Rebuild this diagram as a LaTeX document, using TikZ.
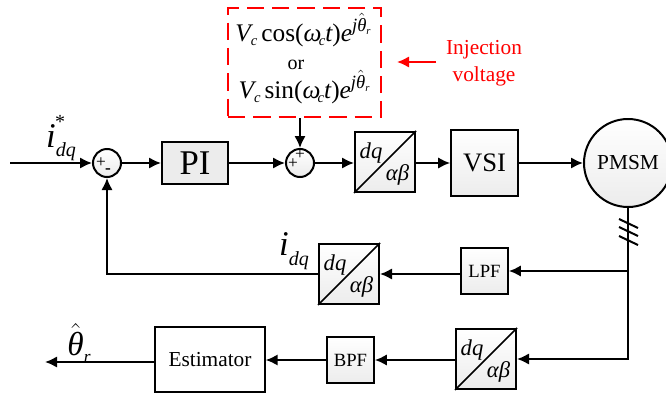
\documentclass[tikz,border=0pt]{standalone}
\usepackage{amsmath}
\usepackage{fontspec}
\setmainfont{Liberation Serif}
\usetikzlibrary{arrows.meta}
\definecolor{boxgray}{RGB}{236,236,236}
\newcommand{\fs}[1]{\fontsize{#1}{#1}\selectfont}
\newcommand{\mi}[1]{\text{\itshape #1}}
\newcommand{\thetahat}{$\hat{\mi{θ}}$}
\newcommand{\idq}{{\fs{26}\itshape i}\raisebox{-7pt}{\fs{15}\itshape dq}}
\newcommand{\eqterm}[1]{{\itshape V}\raisebox{-3.5pt}{\fs{11}\itshape c}\hspace{3pt}#1({\itshape ω}\hspace{-2pt}\raisebox{-3.5pt}{\fs{11}\itshape c}{\itshape t}){\itshape e}\raisebox{7pt}{\fs{14}\itshape j\thetahat\raisebox{-2pt}{\fs{8}r}}}
\begin{document}
\begin{tikzpicture}[x=0.75pt,y=0.75pt,yscale=-1,xscale=1,
  >={Latex[length=9pt,width=8.5pt]},
  line/.style={line width=1.5pt},
  blockbox/.style={draw,line width=1.5pt,inner sep=0pt,top color=white,bottom color=boxgray},
  sumnode/.style={circle,draw,line width=1.5pt,inner sep=0pt,minimum size=21pt,top color=white,bottom color=boxgray},
  signtext/.style={inner sep=0pt,font=\fs{13}},
  dqtext/.style={inner sep=0pt,font=\fs{17}\itshape}]
\useasboundingbox (0,0) rectangle (666,396);

% Blocks
\node (sumA) [sumnode] at (107,163) {};
\node (pi) [blockbox,fill=boxgray,top color=boxgray,minimum width=49.5pt,minimum height=32pt,font=\fs{26}] at (195,163) {PI};
\node (sumB) [sumnode] at (300,163) {};
\node (dqA) [blockbox,minimum width=45pt,minimum height=45pt] at (385,162) {};
\node (vsi) [blockbox,minimum width=50pt,minimum height=49pt,font=\fs{20}] at (484.5,163) {VSI};
\node (pmsm) [blockbox,circle,minimum size=66pt,font=\fs{16}] at (628,163) {PMSM};
\node (lpf) [blockbox,minimum width=35pt,minimum height=35pt,font=\fs{14}] at (484.5,271) {LPF};
\node (dqB) [blockbox,minimum width=45pt,minimum height=45pt] at (349,274) {};
\node (dqC) [blockbox,minimum width=45pt,minimum height=45pt] at (486,359) {};
\node (bpf) [blockbox,minimum width=35pt,minimum height=35pt,font=\fs{14}] at (350.5,360) {BPF};
\node (est) [draw,line width=1.5pt,inner sep=0pt,minimum width=82pt,minimum height=49pt,font=\fs{16}] at (210,359.5) {Estimator};
\node (inj) [draw=red,line width=1.5pt,dash pattern=on 13pt off 6pt,inner sep=0pt,minimum width=115pt,minimum height=82pt] at (304.5,62.5) {};

% Text Node
\node (inA) [inner sep=0pt] at (61,138) {\idq\llap{\raisebox{14pt}{\fs{15}*\hspace{8pt}}}};
\node (inB) [inner sep=0pt] at (294,251) {\idq};
\node (outA) [inner sep=0pt,font=\fs{25}] at (79,343) {\thetahat\raisebox{-5pt}{\fs{13}\itshape r}};
\node (eqA) [inner sep=0pt,font=\fs{19}] at (303,30) {\eqterm{cos}};
\node (eqor) [inner sep=0pt,font=\fs{15}] at (296,65) {or};
\node (eqB) [inner sep=0pt,font=\fs{19}] at (304,87) {\eqterm{sin}};
\node (injA) [inner sep=0pt,text=red,font=\fs{16}] at (484,50) {Injection};
\node (injB) [inner sep=0pt,text=red,font=\fs{16}] at (484,76) {voltage};
\node (dqAa) [dqtext] at (371,153) {dq};
\node (dqAb) [dqtext] at (397.5,175) {αβ};
\node (dqBa) [dqtext] at (335,265) {dq};
\node (dqBb) [dqtext] at (361.5,287) {αβ};
\node (dqCa) [dqtext] at (472,350) {dq};
\node (dqCb) [dqtext] at (498.5,372) {αβ};
\node (sgnAa) [signtext] at (101,163) {+};
\node (sgnAb) [signtext] at (108,171) {\textbf{-}};
\node (sgnBa) [signtext] at (293,164) {+};
\node (sgnBb) [signtext] at (300,155) {+};

% Coordinates
\coordinate (start) at (10,163);
\coordinate (stop) at (45,362);
\coordinate (injend) at (397,62);
\coordinate (injstart) at (436,62);

% Straight Lines
\draw [line,->] (start) -- (sumA);
\draw [line,->] (sumA) -- (pi);
\draw [line,->] (pi) -- (sumB);
\draw [line,->] (sumB) -- (sumB -| dqA.west);
\draw [line,->] (vsi -| dqA.east) -- (vsi);
\draw [line,->] (vsi) -- (pmsm);
\draw [line,->] (inj.south -| sumB) -- (sumB);
\draw [line,->] (pmsm.south) |- (lpf.east);
\draw [line,->] (dqB -| lpf.west) -- (dqB.east);
\draw [line,->] (dqB.west) -| (sumA.south);
\draw [line,->] (pmsm.south) |- (dqC -| dqC.east);
\draw [line,->] (bpf -| dqC.west) -- (bpf);
\draw [line,->] (bpf) -- (bpf -| est.east);
\draw [line,->] (est.west |- stop) -- (stop);
\draw [line,red,->] (injstart) -- (injend);
\draw [line width=1.1pt] (dqA.south west) -- (dqA.north east);
\draw [line width=1.1pt] (dqB.south west) -- (dqB.north east);
\draw [line width=1.1pt] (dqC.south west) -- (dqC.north east);

% Hatch
\draw [line] (619,219) -- (638,228);
\draw [line] (619,227) -- (638,236);
\draw [line] (619,236) -- (638,245);
\end{tikzpicture}
\end{document}
